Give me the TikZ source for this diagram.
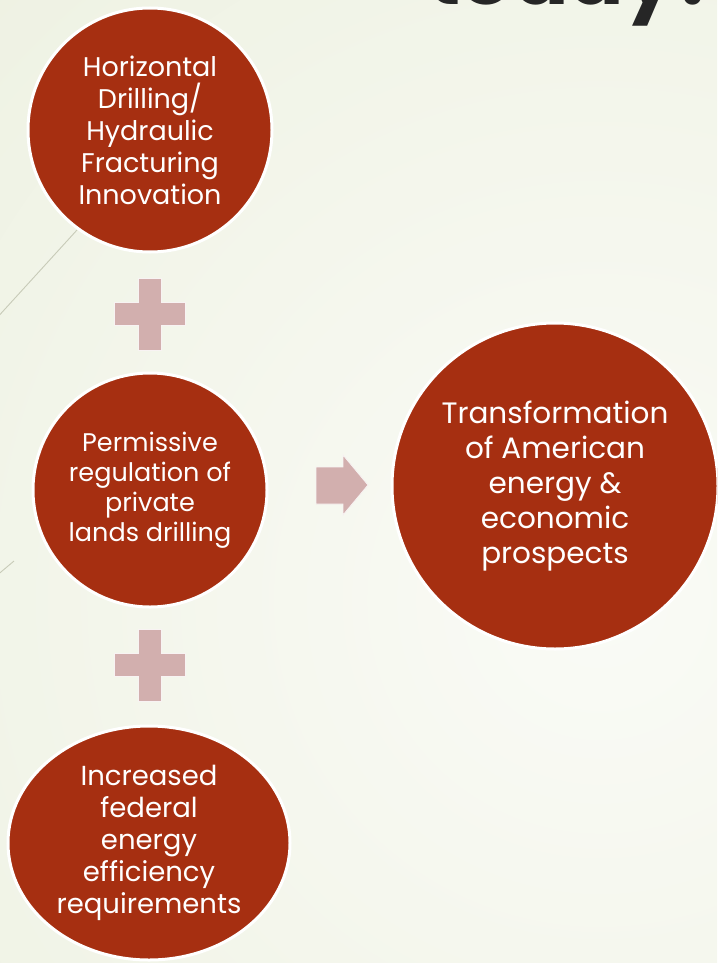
\documentclass[tikz,border=0pt]{standalone}
\usepackage{fontspec}
\setmainfont{Poppins}
\usetikzlibrary{shapes.geometric}

\definecolor{rust}{RGB}{166,47,17}
\definecolor{rose}{RGB}{210,175,174}
\definecolor{sage}{RGB}{231,236,215}
\definecolor{paper}{RGB}{250,251,246}
\definecolor{wisp}{RGB}{200,203,184}
\definecolor{ink}{RGB}{38,38,38}

\begin{document}
\begin{tikzpicture}[x=1pt, y=-1pt,
    bubble/.style={circle, draw=white, line width=3pt, fill=rust, text=white,
        align=center, inner sep=0pt},
    plusmark/.style={fill=rose, draw=white!85!rose, line width=0.8pt},
    wispline/.style={draw=wisp, line width=0.9pt}
]
    \useasboundingbox (0,0) rectangle (717,963);
    \clip (0,0) rectangle (717,963);

    % Background wash
    \fill[sage] (0,0) rectangle (717,963);
    \shade[inner color=paper, outer color=sage] (600,600) circle (1400pt);

    % Thin lines on the left edge
    \coordinate (w1a) at (77,230);
    \coordinate (w1b) at (-5,320);
    \coordinate (w2a) at (14,561);
    \coordinate (w2b) at (-5,577);
    \draw[wispline] (w1a) -- (w1b);
    \draw[wispline] (w2a) -- (w2b);

    % Title, mostly above the page
    \node[anchor=base east, text=ink, font=\fontsize{82}{82}\selectfont\bfseries]
        (title) at (724,5) {today?};

    % Inputs
    \node[bubble, minimum size=244pt, font=\fontsize{27}{32}\selectfont]
        (drill) at (150,130) {Horizontal\\Drilling/\\Hydraulic\\Fracturing\\Innovation};
    \node[bubble, minimum size=234pt, font=\fontsize{25.5}{30}\selectfont]
        (rules) at (150,490) {Permissive\\regulation of\\private\\lands drilling};
    \node[bubble, ellipse, minimum width=282pt, minimum height=234pt,
        font=\fontsize{27.5}{32}\selectfont]
        (federal) at (149,843) {Increased\\federal\\energy\\efficiency\\requirements};

    % Outcome
    \node[bubble, minimum size=326pt, font=\fontsize{29.5}{35}\selectfont]
        (outcome) at (555,486) {Transformation\\of American\\energy \&\\economic\\prospects};

    % Plus signs between the inputs
    \foreach \py in {314,665} {
        \fill[plusmark] (138.5,\py-36) -- (161.5,\py-36) -- (161.5,\py-11.5)
            -- (185.5,\py-11.5) -- (185.5,\py+11.5) -- (161.5,\py+11.5)
            -- (161.5,\py+36) -- (138.5,\py+36) -- (138.5,\py+11.5)
            -- (114.5,\py+11.5) -- (114.5,\py-11.5) -- (138.5,\py-11.5) -- cycle;
    }

    % Block arrow towards the outcome
    \coordinate (tip) at (368,485);
    \fill[plusmark] (316,467) -- (343,467) -- (343,455) -- (tip)
        -- (343,515) -- (343,504) -- (316,504) -- cycle;
\end{tikzpicture}
\end{document}
